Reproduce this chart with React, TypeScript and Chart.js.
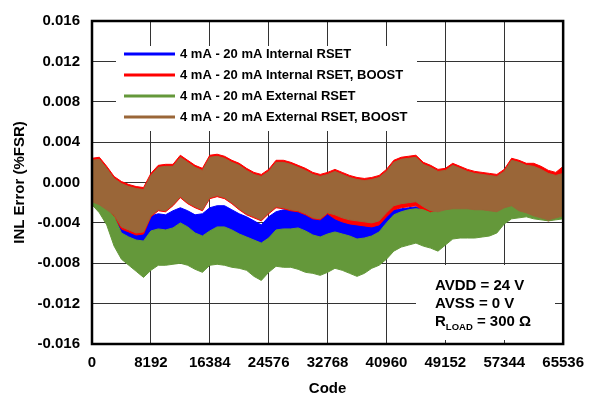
import React, { useEffect, useRef } from "react";
import { Chart, registerables } from "chart.js";
Chart.register(...registerables);

const CODES = [
  0, 1024, 2048, 3072, 4096, 5120, 6144, 7168, 8192, 9216, 10240, 11264, 12288, 13312, 14336, 15360,
  16384, 17408, 18432, 19456, 20480, 21504, 22528, 23552, 24576, 25600, 26624, 27648, 28672, 29696, 30720, 31744,
  32768, 33792, 34816, 35840, 36864, 37888, 38912, 39936, 40960, 41984, 43008, 44032, 45056, 46080, 47104, 48128,
  49152, 50176, 51200, 52224, 53248, 54272, 55296, 56320, 57344, 58368, 59392, 60416, 61440, 62464, 63488, 64512,
  65536,
];

const X_TICKS = [0, 8192, 16384, 24576, 32768, 40960, 49152, 57344, 65536];
const Y_TICKS = [-0.016, -0.012, -0.008, -0.004, 0, 0.004, 0.008, 0.012, 0.016];

const SERIES_NAMES = [
  "4 mA - 20 mA Internal RSET",
  "4 mA - 20 mA Internal RSET, BOOST",
  "4 mA - 20 mA External RSET",
  "4 mA - 20 mA External RSET, BOOST",
];
const SERIES_COLORS = ["#0000ff", "#ff0000", "#64983a", "#9a6638"];

// Envelope (upper / lower edge) of each noisy INL trace, in %FSR
const BLUE_HI = [
  -0.0019, -0.0024, -0.0030, -0.0036, -0.0040, -0.0043, -0.0045, -0.0044,
  -0.0033, -0.0031, -0.0032, -0.0028, -0.0025, -0.0028, -0.0032, -0.0031,
  -0.0025, -0.0023, -0.0023, -0.0027, -0.0031, -0.0034, -0.0038, -0.0042,
  -0.0034, -0.0029, -0.0027, -0.0027, -0.0026, -0.0030, -0.0036, -0.0034,
  -0.0030, -0.0034, -0.0037, -0.0039, -0.0040, -0.0041, -0.0041, -0.0039,
  -0.0032, -0.0027, -0.0026, -0.0025, -0.0024, -0.0027, -0.0031, -0.0032,
  -0.0030, -0.0027, -0.0027, -0.0028, -0.0028, -0.0029, -0.0030, -0.0031,
  -0.0027, -0.0025, -0.0028, -0.0030, -0.0031, -0.0032, -0.0033, -0.0033,
  -0.0032,
];
const BLUE_LO = [
  -0.0022, -0.0027, -0.0033, -0.0046, -0.0053, -0.0057, -0.0060, -0.0062,
  -0.0051, -0.0049, -0.0050, -0.0048, -0.0043, -0.0047, -0.0053, -0.0056,
  -0.0051, -0.0049, -0.0048, -0.0051, -0.0055, -0.0057, -0.0060, -0.0064,
  -0.0058, -0.0050, -0.0049, -0.0049, -0.0050, -0.0055, -0.0057, -0.0060,
  -0.0055, -0.0052, -0.0054, -0.0056, -0.0059, -0.0058, -0.0056, -0.0052,
  -0.0044, -0.0038, -0.0035, -0.0033, -0.0030, -0.0031, -0.0035, -0.0035,
  -0.0036, -0.0032, -0.0032, -0.0033, -0.0034, -0.0035, -0.0036, -0.0037,
  -0.0031, -0.0029, -0.0031, -0.0032, -0.0033, -0.0034, -0.0035, -0.0035,
  -0.0034,
];
const RED_HI = [
  0.0024, 0.0025, 0.0016, 0.0006, 0.0001, -0.0002, -0.0004, -0.0005,
  0.0009, 0.0017, 0.0018, 0.0018, 0.0027, 0.0022, 0.0017, 0.0014,
  0.0027, 0.0028, 0.0026, 0.0022, 0.0019, 0.0014, 0.0010, 0.0008,
  0.0013, 0.0022, 0.0022, 0.0020, 0.0017, 0.0014, 0.0010, 0.0008,
  0.0010, 0.0013, 0.0010, 0.0007, 0.0005, 0.0004, 0.0005, 0.0007,
  0.0013, 0.0022, 0.0025, 0.0026, 0.0027, 0.0020, 0.0017, 0.0013,
  0.0014, 0.0019, 0.0016, 0.0013, 0.0011, 0.0010, 0.0009, 0.0008,
  0.0013, 0.0024, 0.0022, 0.0019, 0.0019, 0.0016, 0.0012, 0.0010,
  0.0016,
];
const RED_LO = [
  -0.0021, -0.0024, -0.0029, -0.0034, -0.0046, -0.0049, -0.0052, -0.0051,
  -0.0034, -0.0028, -0.0029, -0.0023, -0.0015, -0.0021, -0.0025, -0.0028,
  -0.0016, -0.0014, -0.0016, -0.0021, -0.0027, -0.0032, -0.0035, -0.0038,
  -0.0031, -0.0025, -0.0026, -0.0028, -0.0029, -0.0032, -0.0036, -0.0037,
  -0.0031, -0.0036, -0.0039, -0.0041, -0.0042, -0.0043, -0.0044, -0.0042,
  -0.0034, -0.0027, -0.0025, -0.0024, -0.0023, -0.0028, -0.0032, -0.0033,
  -0.0031, -0.0027, -0.0027, -0.0027, -0.0028, -0.0028, -0.0029, -0.0030,
  -0.0026, -0.0024, -0.0029, -0.0031, -0.0034, -0.0036, -0.0038, -0.0036,
  -0.0034,
];
const GREEN_HI = [
  -0.0010, -0.0019, -0.0026, -0.0034, -0.0050, -0.0054, -0.0057, -0.0058,
  -0.0048, -0.0046, -0.0047, -0.0045, -0.0040, -0.0044, -0.0050, -0.0053,
  -0.0048, -0.0044, -0.0044, -0.0047, -0.0051, -0.0054, -0.0057, -0.0060,
  -0.0055, -0.0047, -0.0046, -0.0046, -0.0045, -0.0048, -0.0052, -0.0054,
  -0.0051, -0.0049, -0.0051, -0.0053, -0.0056, -0.0055, -0.0053, -0.0049,
  -0.0040, -0.0032, -0.0029, -0.0027, -0.0026, -0.0027, -0.0030, -0.0028,
  -0.0025, -0.0023, -0.0022, -0.0024, -0.0025, -0.0027, -0.0028, -0.0027,
  -0.0019, -0.0015, -0.0014, -0.0015, -0.0018, -0.0019, -0.0020, -0.0021,
  -0.0021,
];
const GREEN_LO = [
  -0.0022, -0.0030, -0.0042, -0.0063, -0.0076, -0.0082, -0.0088, -0.0094,
  -0.0087, -0.0082, -0.0082, -0.0081, -0.0080, -0.0082, -0.0086, -0.0089,
  -0.0082, -0.0081, -0.0082, -0.0084, -0.0085, -0.0087, -0.0093, -0.0097,
  -0.0089, -0.0083, -0.0084, -0.0084, -0.0086, -0.0089, -0.0090, -0.0092,
  -0.0089, -0.0085, -0.0087, -0.0090, -0.0093, -0.0090, -0.0085, -0.0082,
  -0.0076, -0.0068, -0.0064, -0.0062, -0.0060, -0.0063, -0.0065, -0.0068,
  -0.0062, -0.0056, -0.0055, -0.0055, -0.0055, -0.0054, -0.0053, -0.0050,
  -0.0041, -0.0036, -0.0035, -0.0034, -0.0036, -0.0037, -0.0038, -0.0037,
  -0.0036,
];
const BROWN_HI = [
  0.0022, 0.0023, 0.0014, 0.0004, -0.0001, -0.0004, -0.0006, -0.0007,
  0.0007, 0.0015, 0.0016, 0.0016, 0.0025, 0.0020, 0.0015, 0.0012,
  0.0025, 0.0026, 0.0024, 0.0020, 0.0017, 0.0012, 0.0008, 0.0006,
  0.0011, 0.0020, 0.0020, 0.0018, 0.0015, 0.0012, 0.0008, 0.0006,
  0.0008, 0.0011, 0.0008, 0.0005, 0.0003, 0.0002, 0.0003, 0.0005,
  0.0011, 0.0020, 0.0023, 0.0024, 0.0025, 0.0018, 0.0015, 0.0011,
  0.0012, 0.0017, 0.0014, 0.0011, 0.0009, 0.0008, 0.0007, 0.0006,
  0.0011, 0.0022, 0.0020, 0.0017, 0.0016, 0.0013, 0.0009, 0.0007,
  0.0009,
];
const BROWN_LO = [
  -0.0019, -0.0022, -0.0027, -0.0032, -0.0044, -0.0047, -0.0050, -0.0049,
  -0.0033, -0.0027, -0.0028, -0.0022, -0.0014, -0.0020, -0.0024, -0.0027,
  -0.0015, -0.0013, -0.0015, -0.0020, -0.0026, -0.0031, -0.0034, -0.0037,
  -0.0030, -0.0024, -0.0025, -0.0027, -0.0028, -0.0031, -0.0035, -0.0036,
  -0.0030, -0.0032, -0.0035, -0.0037, -0.0038, -0.0039, -0.0040, -0.0038,
  -0.0030, -0.0023, -0.0021, -0.0020, -0.0019, -0.0024, -0.0028, -0.0029,
  -0.0027, -0.0026, -0.0026, -0.0026, -0.0027, -0.0027, -0.0028, -0.0029,
  -0.0025, -0.0023, -0.0028, -0.0030, -0.0033, -0.0035, -0.0037, -0.0035,
  -0.0033,
];

const NOTE_LINE_1 = "AVDD = 24 V";
const NOTE_LINE_2 = "AVSS = 0 V";
const NOTE_R = "R";
const NOTE_SUB = "LOAD";
const NOTE_REST = " = 300 Ω";

const FONT = "'Liberation Sans', Arial, Helvetica, sans-serif";

function band(lo: number[], hi: number[], color: string, order: number) {
  return [
    {
      data: CODES.map((c, i) => ({ x: c, y: lo[i] })),
      borderColor: color,
      backgroundColor: color,
      borderWidth: 1,
      pointRadius: 0,
      fill: false,
      order,
    },
    {
      data: CODES.map((c, i) => ({ x: c, y: hi[i] })),
      borderColor: color,
      backgroundColor: color,
      borderWidth: 1,
      pointRadius: 0,
      fill: "-1",
      order,
    },
  ];
}

export default function App() {
  const ref = useRef<HTMLCanvasElement>(null);

  useEffect(() => {
    const canvas = ref.current;
    if (!canvas) return;

    const overlay = {
      id: "overlay",
      beforeDatasetsDraw(chart: any) {
        const { ctx, chartArea: a } = chart;
        ctx.save();
        ctx.fillStyle = "#ffffff";
        ctx.fillRect(a.left + 24, a.top + 25, 301, 85);
        ctx.fillRect(a.left + 324, a.top + 244, 139, 75);
        ctx.restore();
      },
      afterDraw(chart: any) {
        const { ctx, chartArea: a } = chart;
        ctx.save();
        // frame
        ctx.strokeStyle = "#000";
        ctx.lineWidth = 2.5;
        ctx.strokeRect(a.left, a.top, a.right - a.left, a.bottom - a.top);
        // legend
        const rows = [54, 75, 96, 117];
        ctx.font = `bold 13px ${FONT}`;
        ctx.textBaseline = "middle";
        ctx.textAlign = "left";
        SERIES_NAMES.forEach((name, i) => {
          const y = rows[i];
          ctx.strokeStyle = SERIES_COLORS[i];
          ctx.lineWidth = 3;
          ctx.beginPath();
          ctx.moveTo(a.left + 32, y);
          ctx.lineTo(a.left + 83, y);
          ctx.stroke();
          ctx.fillStyle = "#000";
          ctx.fillText(name, a.left + 88, y + 0.5);
        });
        // note
        const nx = a.left + 343;
        ctx.font = `bold 15px ${FONT}`;
        ctx.fillStyle = "#000";
        ctx.textBaseline = "alphabetic";
        ctx.fillText(NOTE_LINE_1, nx, a.top + 269);
        ctx.fillText(NOTE_LINE_2, nx, a.top + 287);
        ctx.fillText(NOTE_R, nx, a.top + 305);
        const rw = ctx.measureText(NOTE_R).width;
        ctx.font = `bold 9.5px ${FONT}`;
        ctx.fillText(NOTE_SUB, nx + rw, a.top + 308.5);
        const sw = ctx.measureText(NOTE_SUB).width;
        ctx.font = `bold 15px ${FONT}`;
        ctx.fillText(NOTE_REST, nx + rw + sw, a.top + 305);
        ctx.restore();
      },
    };

    const datasets = [
      ...band(BLUE_LO, BLUE_HI, SERIES_COLORS[0], 4),
      ...band(RED_LO, RED_HI, SERIES_COLORS[1], 3),
      ...band(GREEN_LO, GREEN_HI, SERIES_COLORS[2], 2),
      ...band(BROWN_LO, BROWN_HI, SERIES_COLORS[3], 1),
    ];

    const chart = new Chart(canvas, {
      type: "line",
      data: { datasets } as any,
      options: {
        animation: false,
        responsive: false,
        devicePixelRatio: 1,
        layout: { padding: { left: 0, top: 18, right: 21, bottom: 0 } },
        plugins: { legend: { display: false }, tooltip: { enabled: false } },
        elements: { line: { tension: 0 } },
        scales: {
          x: {
            type: "linear",
            min: 0,
            max: 65536,
            afterBuildTicks: (s: any) => {
              s.ticks = X_TICKS.map((v) => ({ value: v }));
            },
            afterFit: (s: any) => {
              s.height = 52;
            },
            ticks: {
              autoSkip: false,
              maxRotation: 0,
              padding: 10,
              color: "#000",
              font: { family: FONT, size: 15, weight: "bold" },
              callback: (v: any) => String(v),
            },
            grid: { color: "#333", lineWidth: 1, drawTicks: false },
            border: { display: false },
            title: {
              display: true,
              text: "Code",
              color: "#000",
              padding: { top: 0, bottom: 0 },
              font: { family: FONT, size: 15, weight: "bold", lineHeight: 1 },
            },
          },
          y: {
            type: "linear",
            min: -0.016,
            max: 0.016,
            afterBuildTicks: (s: any) => {
              s.ticks = Y_TICKS.map((v) => ({ value: v }));
            },
            afterFit: (s: any) => {
              s.width = 92;
            },
            ticks: {
              autoSkip: false,
              padding: 12,
              color: "#000",
              font: { family: FONT, size: 15, weight: "bold" },
              callback: (v: any) => (Math.abs(Number(v)) < 1e-9 ? "0.000" : Number(v).toFixed(3)),
            },
            grid: { color: "#333", lineWidth: 1, drawTicks: false },
            border: { display: false },
            title: {
              display: true,
              text: "INL Error (%FSR)",
              color: "#000",
              padding: { top: 12.5, bottom: 0 },
              font: { family: FONT, size: 15, weight: "bold", lineHeight: 1 },
            },
          },
        },
      },
      plugins: [overlay],
    } as any);

    return () => chart.destroy();
  }, []);

  return (
    <div style={{ position: "fixed", left: 0, top: 0, width: 594, height: 396, background: "#fff" }}>
      <canvas ref={ref} width={594} height={396} style={{ display: "block" }} />
    </div>
  );
}
